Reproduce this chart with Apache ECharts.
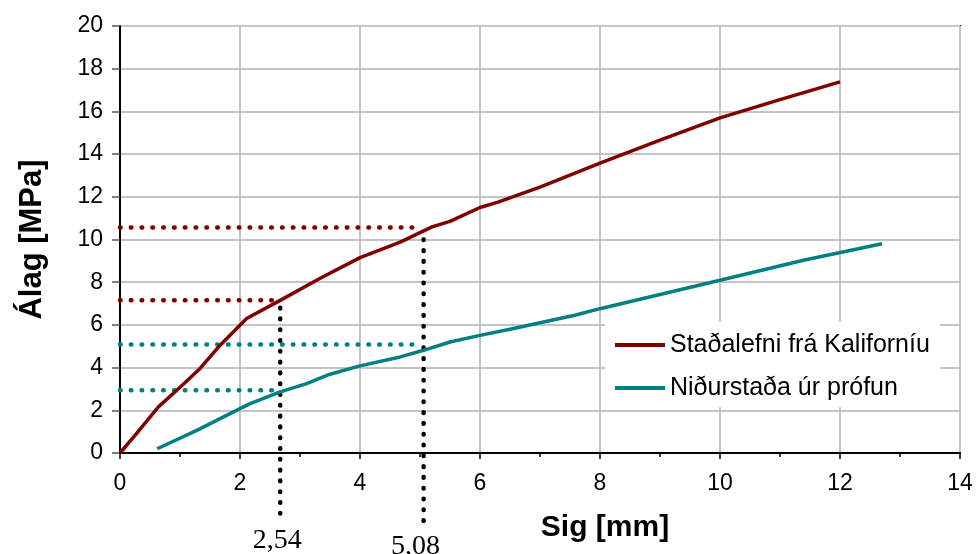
<!DOCTYPE html>
<html>
<head>
<meta charset="utf-8">
<script src="https://cdn.jsdelivr.net/npm/echarts@6/dist/echarts.min.js"></script>
<style>html,body{margin:0;padding:0;background:#fff}#c{width:978px;height:554px}</style>
</head>
<body>
<div id="c"></div>
<script>
// ---- data ----
const seriesNames = ['Staðalefni frá Kaliforníu', 'Niðurstaða úr prófun'];
const californiaX = [0, 0.25, 0.64, 0.97, 1.33, 1.67, 2.11, 2.67, 3.33, 4.0, 4.67, 5.2, 5.5, 6.0, 6.3, 7.0, 8.0, 9.0, 10.0, 11.0, 12.0];
const californiaY = [0, 0.83, 2.16, 3.0, 3.95, 5.05, 6.3, 7.15, 8.17, 9.15, 9.88, 10.59, 10.85, 11.5, 11.75, 12.45, 13.58, 14.65, 15.7, 16.55, 17.38];
const testX = [0.62, 1.28, 2.0, 2.17, 2.67, 3.11, 3.5, 4.0, 4.67, 5.06, 5.5, 6.0, 6.5, 7.58, 8.0, 10.0, 11.39, 12.7];
const testY = [0.2, 1.06, 2.08, 2.31, 2.86, 3.25, 3.69, 4.08, 4.5, 4.81, 5.2, 5.51, 5.8, 6.45, 6.76, 8.09, 9.03, 9.8];
// reference (dotted) lines: horizontal [y, xEnd], vertical [x, yTop, yBottom]
const hRefRed = [[10.56, 4.94], [7.15, 2.61]];
const hRefTeal = [[5.08, 4.94], [2.94, 2.53]];
const vRef = [[2.67, 6.8, -2.92], [5.06, 10.0, -3.23]];
const vRefLabels = ['2,54', '5,08'];

const RED = '#800000', TEAL = '#008080';
const pair = (xs, ys) => xs.map((x, i) => [x, ys[i]]);
const dotStyle = (color) => ({ color, width: 4.5, type: [0.6, 10.2], cap: 'round' });
const labelOffsets = [[-3, 0], [-8, 0]];

const series = [
  { name: seriesNames[0], type: 'line', data: pair(californiaX, californiaY), showSymbol: false, symbol: 'none',
    lineStyle: { color: RED, width: 3.5 }, itemStyle: { color: RED }, z: 5 },
  { name: seriesNames[1], type: 'line', data: pair(testX, testY), showSymbol: false, symbol: 'none',
    lineStyle: { color: TEAL, width: 3.5 }, itemStyle: { color: TEAL }, z: 5 }
];
hRefRed.forEach(r => series.push({ type: 'line', data: [[0, r[0]], [r[1], r[0]]], symbol: 'none',
  lineStyle: dotStyle(RED), z: 4, silent: true }));
hRefTeal.forEach(r => series.push({ type: 'line', data: [[0, r[0]], [r[1], r[0]]], symbol: 'none',
  lineStyle: dotStyle(TEAL), z: 4, silent: true }));
vRef.forEach((r, i) => series.push({ type: 'line', clip: false, silent: true, z: 4,
  symbol: 'circle', symbolSize: 0.01, lineStyle: dotStyle('#000'), itemStyle: { color: '#000' },
  data: [[r[0], r[1]], { value: [r[0], r[2]], label: { show: true, position: 'bottom', distance: 11,
    offset: labelOffsets[i],
    formatter: vRefLabels[i], fontFamily: 'Liberation Serif', fontSize: 28, color: '#000' } }] }));

const chart = echarts.init(document.getElementById('c'), null, { renderer: 'canvas' });
chart.setOption({
  animation: false,
  backgroundColor: '#fff',
  grid: { left: 120, right: 18, top: 26, bottom: 101, show: true, borderColor: '#000', borderWidth: 2, containLabel: false },
  legend: {
    data: seriesNames, orient: 'vertical', left: 605, top: 322,
    padding: [9, 10, 5, 10], backgroundColor: '#fff',
    icon: 'rect', itemWidth: 50, itemHeight: 4, itemGap: 15,
    textStyle: { fontFamily: 'Liberation Sans', fontSize: 25, lineHeight: 28, color: '#000' }
  },
  xAxis: {
    type: 'value', min: 0, max: 14, interval: 2,
    name: 'Sig [mm]', nameLocation: 'middle', nameGap: 60,
    nameTextStyle: { fontFamily: 'Liberation Sans', fontWeight: 'bold', fontSize: 30, color: '#000', padding: [0, 0, 0, 130] },
    axisLine: { lineStyle: { color: '#000', width: 2 } },
    axisTick: { length: 6, lineStyle: { color: '#000', width: 1.5 } },
    minorTick: { show: true, splitNumber: 2, length: 4, lineStyle: { color: '#000', width: 1.5 } },
    axisLabel: { fontFamily: 'Liberation Sans', fontSize: 23, color: '#000', margin: 19 },
    splitLine: { lineStyle: { color: '#C4C4C4', width: 2 } }
  },
  yAxis: {
    type: 'value', min: 0, max: 20, interval: 2,
    name: 'Álag [MPa]', nameLocation: 'middle', nameGap: 72,
    nameTextStyle: { fontFamily: 'Liberation Sans', fontWeight: 'bold', fontSize: 31, color: '#000' },
    axisLine: { show: true, lineStyle: { color: '#000', width: 2 } },
    axisTick: { show: true, length: 8, lineStyle: { color: '#555', width: 1.5 } },
    axisLabel: { fontFamily: 'Liberation Sans', fontSize: 23, color: '#000', margin: 17 },
    splitLine: { lineStyle: { color: '#C4C4C4', width: 2 } }
  },
  series
});
</script>
</body>
</html>
